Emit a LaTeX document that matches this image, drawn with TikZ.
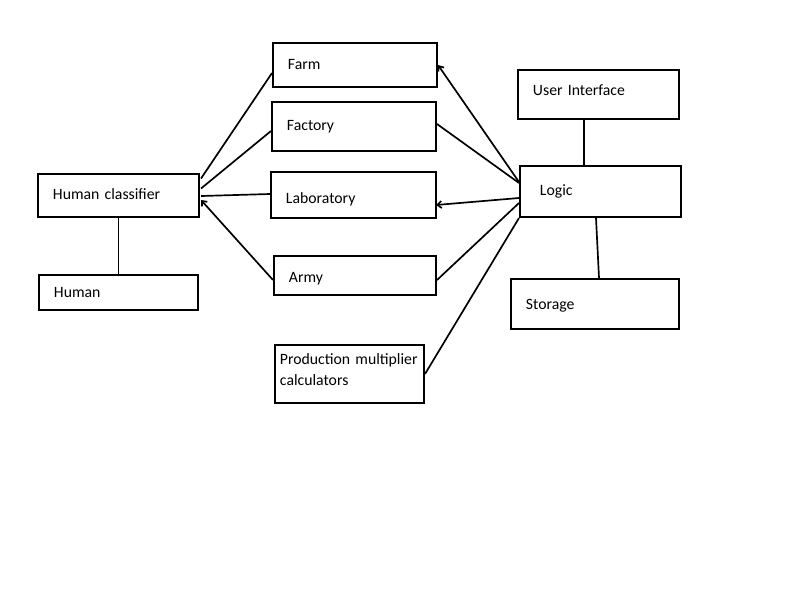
\documentclass[tikz,border=0pt]{standalone}
\usepackage{fontspec}
\setmainfont{Carlito}
\usetikzlibrary{calc,arrows.meta}
\begin{document}
\begin{tikzpicture}[x=0.025cm, y=-0.025cm]
\tikzset{ >={Straight Barb[length=3pt,width=5pt]},
  block/.style={draw, line width=1.4pt, inner xsep=0.375cm, inner ysep=0pt, align=left,
    font=\fontsize{11.2}{15}\selectfont},
  link/.style={line width=1.2pt} }

\useasboundingbox (0,0) rectangle (800,600);

%\draw [lightgray, dashed](0,0) grid[step=50] (800,600);

\node [block, text width=3.35cm,  minimum height=1.1cm]   (farm)    at (355,65)     {Farm};
\node [block, text width=3.35cm,  minimum height=1.225cm] (factory) at (354,126.5)  {Factory};
\node [block, text width=3.375cm, minimum height=1.15cm, text height=13.3pt]  (lab) at (353.5,195) {Laboratory};
\node [block, text width=3.3cm,   minimum height=0.975cm, text height=11.5pt] (army) at (355,275.5) {Army};
\node [block, text width=3.475cm, minimum height=1.45cm, inner xsep=0.125cm, text depth=22pt] (prod) at (349.5,374)
      {\mbox{Production multiplier}\\calculators};

\node [block, text width=3.275cm, minimum height=1.075cm, text depth=2.8pt] (hc) at (118.5,195.5) {Human classifier};
\node [block, text width=3.225cm, minimum height=0.875cm] (human)   at (118.5,292.5) {Human};

\node [block, text width=3.275cm, minimum height=1.225cm, text depth=5.7pt] (ui) at (598.5,94.5) {User Interface};
\node [block, text width=3.025cm, minimum height=1.275cm, inner xsep=0.5cm] (logic) at (600.5,191.5) {Logic};
\node [block, text width=3.45cm,  minimum height=1.25cm, text height=10pt] (storage) at (595,304) {Storage};

% human classifier side
\draw [link] ($(hc.east)+(1,-17)$) -- ($(farm.west)+(0,8)$);
\draw [link] ($(hc.east)+(1,-7)$)  -- ($(factory.west)+(0,4.5)$);
\draw [link] ($(hc.east)+(1,0.5)$) -- ($(lab.west)+(0,-1)$);
\draw [link, ->] ($(army.west)+(0,4.5)$) -- ($(hc.east)+(1,4.5)$);
\draw [link] (hc.south) -- (human.north);

% logic side
\draw [link, ->] ($(logic.west)+(0,-9.5)$) -- (farm.east);
\draw [link] ($(factory.east)+(0,-2.5)$) -- ($(logic.west)+(0,-8.5)$);
\draw [link, ->] ($(logic.west)+(0,6.5)$) -- ($(lab.east)+(-1,10)$);
\draw [link] ($(army.east)+(0,4.5)$) -- ($(logic.west)+(0,11.5)$);
\draw [link] (prod.east) -- (logic.south west);

\draw [link] ($(ui.south)+(-14.5,0)$) -- ($(logic.north)+(-16.5,0)$);
\draw [link] ($(logic.south)+(-4.5,0)$) -- ($(storage.north)+(4,0)$);

\end{tikzpicture}
\end{document}
